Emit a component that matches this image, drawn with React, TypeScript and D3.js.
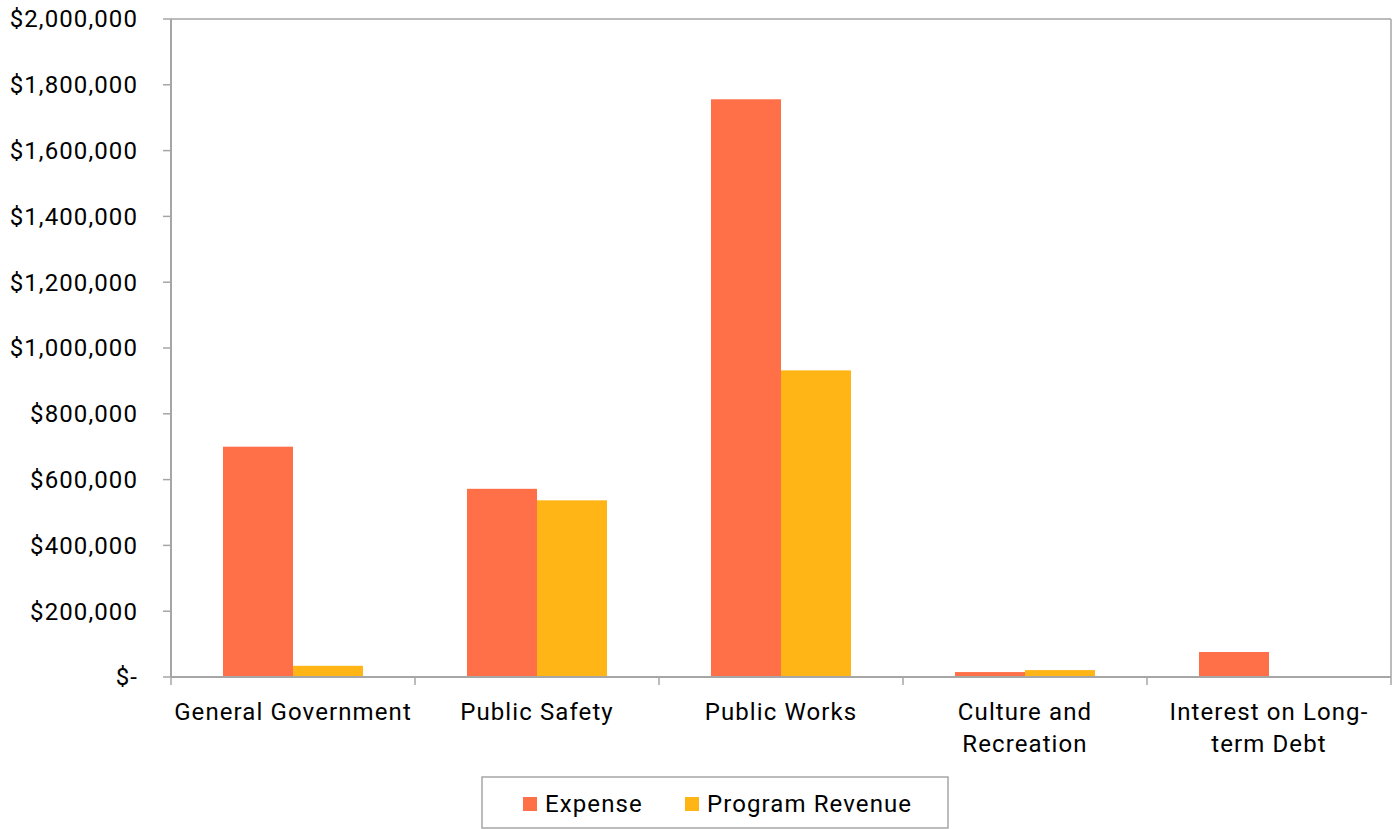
import React from "react";
import * as d3 from "d3";

const categories: string[][] = [
  ["General Government"],
  ["Public Safety"],
  ["Public Works"],
  ["Culture and", "Recreation"],
  ["Interest on Long-", "term Debt"],
];
const expense = [700000, 572000, 1756000, 15000, 76000];
const programRevenue = [34000, 537000, 932000, 21000, 0];
const yTicks = [0, 200000, 400000, 600000, 800000, 1000000, 1200000, 1400000, 1600000, 1800000, 2000000];
const seriesNames = ["Expense", "Program Revenue"];
const colors = ["#FF6F48", "#FFB515"];

const W = 1398, H = 829;
const left = 171, right = 1391, top = 19, bottom = 677;
const font = "Roboto, sans-serif";
const fs = 24;
const ls = 1.1;

export default function App() {
  const x = d3.scaleBand<number>().domain(d3.range(categories.length)).range([left, right]).paddingInner(0).paddingOuter(0);
  const y = d3.scaleLinear().domain([0, 2000000]).range([bottom, top]);
  const series = [expense, programRevenue];
  const fmt = (v: number) => (v === 0 ? "$-" : "$" + d3.format(",")(v));
  const axisColor = "#A6A6A6";
  const bw = x.bandwidth();
  const barW = 70;
  return (
    <svg width={W} height={H} style={{ position: "absolute", left: 0, top: 0, background: "#fff" }} fontFamily={font}>
      {/* plot border */}
      <line x1={left} x2={right} y1={top} y2={top} stroke={axisColor} strokeWidth={1.5} />
      <line x1={right} x2={right} y1={top} y2={bottom} stroke={axisColor} strokeWidth={1.5} />
      {/* bars */}
      {series.map((vals, si) =>
        vals.map((v, i) => {
          const cx = (x(i) as number) + bw / 2;
          const bx = cx - barW + si * barW;
          return v > 0 ? (
            <rect key={`${si}-${i}`} x={bx} y={y(v)} width={barW} height={bottom - y(v)} fill={colors[si]} />
          ) : null;
        })
      )}
      {/* y axis */}
      <line x1={left} x2={left} y1={top} y2={bottom} stroke={axisColor} strokeWidth={2} />
      {yTicks.map((t) => (
        <g key={t}>
          <line x1={left - 8} x2={left} y1={y(t)} y2={y(t)} stroke={axisColor} strokeWidth={1.5} />
          <text x={138} y={y(t)} dy="0.35em" textAnchor="end" fontSize={fs} letterSpacing={ls} fill="#000">
            {fmt(t)}
          </text>
        </g>
      ))}
      {/* x axis */}
      <line x1={left} x2={right} y1={bottom} y2={bottom} stroke={axisColor} strokeWidth={2} />
      {d3.range(categories.length + 1).map((i) => {
        const xx = left + i * bw;
        return <line key={i} x1={xx} x2={xx} y1={bottom} y2={bottom + 8} stroke={axisColor} strokeWidth={1.5} />;
      })}
      {categories.map((lines, i) => (
        <text key={i} x={(x(i) as number) + bw / 2} y={720} textAnchor="middle" fontSize={fs} letterSpacing={ls} fill="#000">
          {lines.map((l, j) => (
            <tspan key={j} x={(x(i) as number) + bw / 2} y={720 + j * 32}>
              {l}
            </tspan>
          ))}
        </text>
      ))}
      {/* legend */}
      <rect x={482} y={777} width={466} height={51} fill="#fff" stroke={axisColor} strokeWidth={1.5} />
      {seriesNames.map((n, i) => {
        const sx = [523, 685][i];
        return (
          <g key={n}>
            <rect x={sx} y={797} width={14} height={14} fill={colors[i]} />
            <text x={sx + 22} y={804} dy="0.35em" fontSize={fs} letterSpacing={ls} fill="#000">
              {n}
            </text>
          </g>
        );
      })}
    </svg>
  );
}
